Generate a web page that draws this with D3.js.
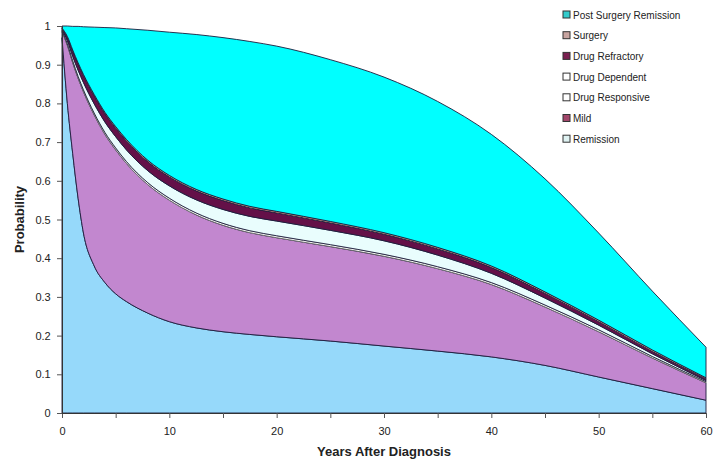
<!DOCTYPE html>
<html>
<head>
<meta charset="utf-8">
<script src="https://cdn.jsdelivr.net/npm/d3@7"></script>
<style>
  body { margin: 0; background: #fff; }
  svg { display: block; font-family: "Liberation Sans", Arial, sans-serif; }
</style>
</head>
<body>
<svg id="chart" width="715" height="465"></svg>
<script>
// years after diagnosis
var years = [0, 0.5, 1, 1.5, 2, 3, 4, 5, 6, 8, 10, 12.5, 15, 17.5, 20, 25, 30, 35, 40, 45, 50, 55, 60];

// probability of each state (stacked bottom to top)
var remission      = [0.97, 0.80, 0.67, 0.555, 0.465, 0.38, 0.337, 0.308, 0.288, 0.258, 0.236, 0.22, 0.21, 0.203, 0.197, 0.186, 0.173, 0.16, 0.145, 0.123, 0.093, 0.063, 0.033];
var mild           = [0.015, 0.15, 0.235, 0.31, 0.365, 0.39, 0.383, 0.372, 0.357, 0.332, 0.314, 0.292, 0.275, 0.263, 0.256, 0.244, 0.232, 0.213, 0.187, 0.151, 0.117, 0.079, 0.045];
var drugResponsive = [0.002, 0.004, 0.005, 0.005, 0.005, 0.005, 0.005, 0.005, 0.005, 0.005, 0.005, 0.005, 0.005, 0.005, 0.005, 0.005, 0.005, 0.005, 0.005, 0.005, 0.005, 0.004, 0.003];
var drugDependent  = [0.003, 0.008, 0.012, 0.016, 0.019, 0.024, 0.027, 0.029, 0.03, 0.031, 0.032, 0.034, 0.036, 0.037, 0.038, 0.037, 0.035, 0.03, 0.024, 0.018, 0.012, 0.007, 0.003];
var drugRefractory = [0.003, 0.008, 0.012, 0.015, 0.017, 0.02, 0.021, 0.022, 0.023, 0.023, 0.023, 0.023, 0.023, 0.022, 0.021, 0.019, 0.017, 0.016, 0.015, 0.012, 0.009, 0.006, 0.004];
var surgery        = [0.002, 0.003, 0.004, 0.004, 0.004, 0.004, 0.004, 0.004, 0.004, 0.004, 0.004, 0.004, 0.004, 0.004, 0.004, 0.004, 0.004, 0.004, 0.004, 0.004, 0.004, 0.004, 0.003];
var postSurgery    = [0.005, 0.027, 0.061, 0.094, 0.123, 0.174, 0.219, 0.255, 0.286, 0.336, 0.37, 0.40, 0.417, 0.426, 0.427, 0.418, 0.402, 0.377, 0.34, 0.292, 0.225, 0.152, 0.079];

var seriesNames = ["Remission", "Mild", "Drug Responsive", "Drug Dependent", "Drug Refractory", "Surgery", "Post Surgery Remission"];
var seriesValues = [remission, mild, drugResponsive, drugDependent, drugRefractory, surgery, postSurgery];

var areaColors   = ["#96d9fa", "#c287cf", "#ffffff", "#e9fdfd", "#641048", "#f2aa8e", "#00ffff"];
var legendColors = ["#dff2f2", "#a2466a", "#ffffff", "#ffffff", "#7a2050", "#c8a4a0", "#33cccc"];

var xTicks = [0, 10, 20, 30, 40, 50, 60];
var yTicks = [0, 0.1, 0.2, 0.3, 0.4, 0.5, 0.6, 0.7, 0.8, 0.9, 1];

var svg = d3.select("#chart"),
    margin = {top: 26, right: 9, bottom: 52, left: 62},
    width = 715 - margin.left - margin.right,
    height = 465 - margin.top - margin.bottom;

var rows = years.map(function (t, i) {
  var r = {t: t};
  seriesNames.forEach(function (name, k) { r[name] = seriesValues[k][i]; });
  return r;
});

var x = d3.scaleLinear().domain([0, 60]).range([0, width]);
var y = d3.scaleLinear().domain([0, 1]).range([height, 0]);

var stacked = d3.stack().keys(seriesNames)(rows);

var area = d3.area()
  .curve(d3.curveMonotoneX)
  .x(function (d) { return x(d.data.t); })
  .y0(function (d) { return y(d[0]); })
  .y1(function (d) { return y(d[1]); });

var vis = svg.append("g")
  .attr("transform", "translate(" + margin.left + "," + margin.top + ")");

vis.selectAll("path.layer")
  .data(stacked)
  .enter().append("path")
  .attr("class", "layer")
  .attr("d", area)
  .attr("fill", function (d, i) { return areaColors[i]; })
  .attr("stroke", function (d, i) { return i === 2 ? "#666" : "#1c1c3c"; })
  .attr("stroke-width", 0.9)
  .attr("stroke-linejoin", "round");

// axes
var xAxis = d3.axisBottom(x)
  .tickValues(d3.range(0, 61, 5))
  .tickSize(5)
  .tickFormat(function (d) { return xTicks.indexOf(d) >= 0 ? d : ""; });

var yAxis = d3.axisLeft(y)
  .tickValues(yTicks)
  .tickSize(5)
  .tickFormat(d3.format(""));

var gx = vis.append("g")
  .attr("transform", "translate(0," + height + ")")
  .call(xAxis);
var gy = vis.append("g").call(yAxis);

[gx, gy].forEach(function (g) {
  g.select(".domain").attr("stroke", "#333");
  g.selectAll(".tick line").attr("stroke", "#555");
  g.selectAll(".tick text")
    .attr("fill", "#222")
    .style("font-size", "11px")
    .style("font-family", "'Liberation Sans', Arial, sans-serif");
});
gx.selectAll(".tick text").attr("dy", "1.3em");
gy.selectAll(".tick text").attr("dx", "-0.3em");

svg.append("text")
  .attr("x", margin.left + width / 2)
  .attr("y", 456)
  .attr("text-anchor", "middle")
  .style("font-weight", "bold")
  .style("font-size", "13px")
  .attr("fill", "#222")
  .text("Years After Diagnosis");

svg.append("text")
  .attr("transform", "rotate(-90)")
  .attr("x", -(margin.top + height / 2))
  .attr("y", 24)
  .attr("text-anchor", "middle")
  .style("font-weight", "bold")
  .style("font-size", "13px")
  .attr("fill", "#222")
  .text("Probability");

// legend, top entry is the top layer
var legend = svg.append("g").attr("transform", "translate(563,11)");
var legendItems = seriesNames.map(function (n, i) { return i; }).reverse();

var item = legend.selectAll("g.item")
  .data(legendItems)
  .enter().append("g")
  .attr("class", "item")
  .attr("transform", function (d, j) { return "translate(0," + (j * 20.7) + ")"; });

item.append("rect")
  .attr("width", 7)
  .attr("height", 7)
  .attr("fill", function (d) { return legendColors[d]; })
  .attr("stroke", "#333")
  .attr("stroke-width", 1);

item.append("text")
  .attr("x", 10)
  .attr("y", 7.5)
  .style("font-size", "10px")
  .attr("fill", "#222")
  .text(function (d) { return seriesNames[d]; });
</script>
</body>
</html>
